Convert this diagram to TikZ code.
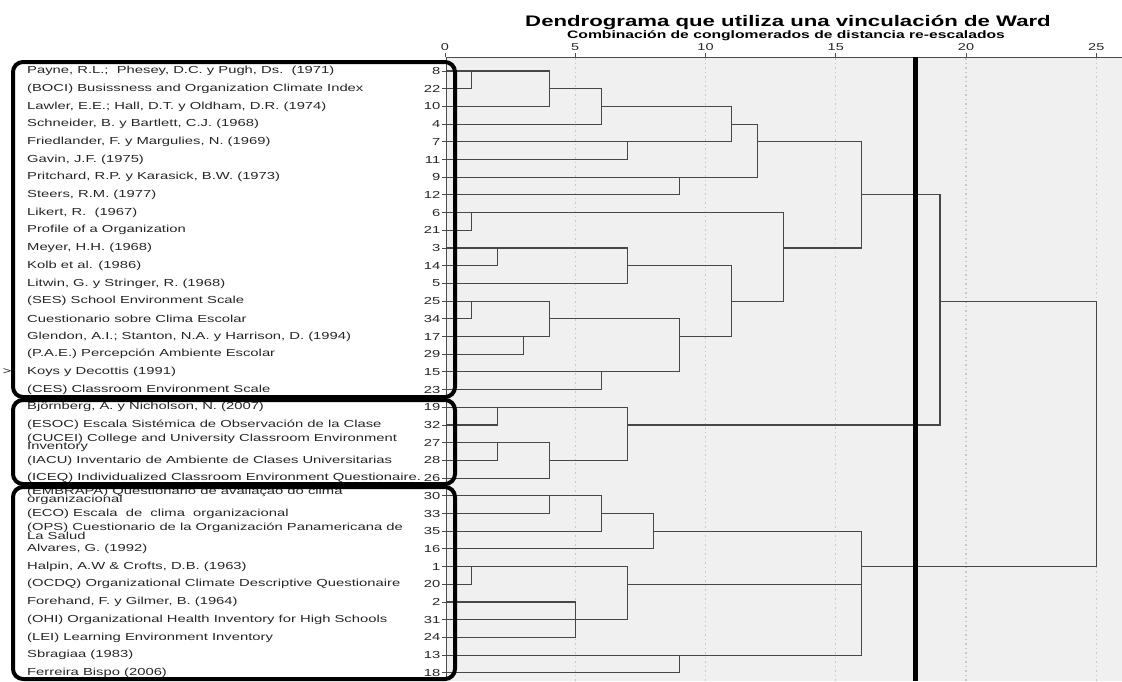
\documentclass[tikz,border=0pt]{standalone}
\usepackage{fontspec}
\setmainfont{Liberation Sans}[FakeStretch=1.45]
\tikzset{
  etiqueta/.style={anchor=west, inner sep=0pt, align=left, text=black!85, font=\fontsize{10.2}{12}\selectfont},
  numero/.style={anchor=east, inner sep=0pt, text=black!85, font=\fontsize{10.2}{12}\selectfont},
  escala/.style={inner sep=0pt, text=black!85, font=\fontsize{10}{12}\selectfont},
  titulo/.style={inner sep=0pt, font=\bfseries\fontsize{15.3}{18}\selectfont},
  subtitulo/.style={inner sep=0pt, font=\bfseries\fontsize{10.8}{13}\selectfont},
  rama/.style={draw=black!72, line width=1.1pt},
  eje/.style={draw=black!70, line width=0.9pt},
  rejilla/.style={draw=black!22, line width=1.2pt, dash pattern=on 1.5pt off 3pt},
  corte/.style={draw=black, line width=5pt},
  grupo/.style={draw=black, line width=4pt, rounded corners=10pt}
}
\begin{document}
\begin{tikzpicture}[x=1pt,y=-1pt]
  \useasboundingbox (0,0) rectangle (1122,681);
  \fill[black!6] (446,57) rectangle (1122,681);
  % titles and scale
  \node[titulo] (titulo) at (788,22.5) {Dendrograma que utiliza una vinculación de Ward};
  \node[subtitulo] (subtitulo) at (786,35.5) {Combinación de conglomerados de distancia re-escalados};
  \foreach \k in {0,5,...,25} {
    \node[escala] (e\k) at ({445+26.05*\k},47.5) {\k};
    \draw[eje] ({445+26.05*\k},53) -- ({445+26.05*\k},57);
  }
  \foreach \k in {5,10,...,25}
    \draw[rejilla] ({445+26.05*\k},58) -- ({445+26.05*\k},681);
  \draw[eje] (446,57) -- (1122,57);
  \draw[eje] (446,57) -- (446,681);

  % cases
  \begin{scope}[yshift=-53.3pt, y=-17.7pt]
    \node[etiqueta] (t8) at (27,1) {Payne, R.L.;\ \ Phesey, D.C. y Pugh, Ds.\ \ (1971)};
    \node[etiqueta] (t22) at (27,2) {(BOCI) Busissness and Organization Climate Index};
    \node[etiqueta] (t10) at (27,3) {Lawler, E.E.; Hall, D.T. y Oldham, D.R. (1974)};
    \node[etiqueta] (t4) at (27,4) {Schneider, B. y Bartlett, C.J. (1968)};
    \node[etiqueta] (t7) at (27,5) {Friedlander, F. y Margulies, N. (1969)};
    \node[etiqueta] (t11) at (27,6) {Gavin, J.F. (1975)};
    \node[etiqueta] (t9) at (27,7) {Pritchard, R.P. y Karasick, B.W. (1973)};
    \node[etiqueta] (t12) at (27,8) {Steers, R.M. (1977)};
    \node[etiqueta] (t6) at (27,9) {Likert, R.\ \ (1967)};
    \node[etiqueta] (t21) at (27,10) {Profile of a Organization};
    \node[etiqueta] (t3) at (27,11) {Meyer, H.H. (1968)};
    \node[etiqueta] (t14) at (27,12) {Kolb et al. (1986)};
    \node[etiqueta] (t5) at (27,13) {Litwin, G. y Stringer, R. (1968)};
    \node[etiqueta] (t25) at (27,14) {(SES) School Environment Scale};
    \node[etiqueta] (t34) at (27,15) {Cuestionario sobre Clima Escolar};
    \node[etiqueta] (t17) at (27,16) {Glendon, A.I.; Stanton, N.A. y Harrison, D. (1994)};
    \node[etiqueta] (t29) at (27,17) {(P.A.E.) Percepción Ambiente Escolar};
    \node[etiqueta] (t15) at (27,18) {Koys y Decottis (1991)};
    \node[etiqueta] (t23) at (27,19) {(CES) Classroom Environment Scale};
    \node[etiqueta] (t19) at (27,20) {Björnberg, A. y Nicholson, N. (2007)};
    \node[etiqueta] (t32) at (27,21) {(ESOC) Escala Sistémica de Observación de la Clase};
    \node[etiqueta] (t27) at (27,22) {(CUCEI) College and University Classroom Environment\\[-3.6pt]Inventory};
    \node[etiqueta] (t28) at (27,23) {(IACU) Inventario de Ambiente de Clases Universitarias};
    \node[etiqueta] (t26) at (27,24) {(ICEQ) Individualized Classroom Environment Questionaire.};
    \node[etiqueta] (t30) at (27,25) {(EMBRAPA) Questionário de avaliação do clima\\[-3.6pt]organizacional};
    \node[etiqueta] (t33) at (27,26) {(ECO) Escala\ \ de\ \ clima\ \ organizacional};
    \node[etiqueta] (t35) at (27,27) {(OPS) Cuestionario de la Organización Panamericana de\\[-3.6pt]La Salud};
    \node[etiqueta] (t16) at (27,28) {Alvares, G. (1992)};
    \node[etiqueta] (t1) at (27,29) {Halpin, A.W \& Crofts, D.B. (1963)};
    \node[etiqueta] (t20) at (27,30) {(OCDQ) Organizational Climate Descriptive Questionaire};
    \node[etiqueta] (t2) at (27,31) {Forehand, F. y Gilmer, B. (1964)};
    \node[etiqueta] (t31) at (27,32) {(OHI) Organizational Health Inventory for High Schools};
    \node[etiqueta] (t24) at (27,33) {(LEI) Learning Environment Inventory};
    \node[etiqueta] (t13) at (27,34) {Sbragiaa (1983)};
    \node[etiqueta] (t18) at (27,35) {Ferreira Bispo (2006)};
    \node[escala] (marca) at (7,18) {>};
    \foreach \id [count=\r] in {8,22,10,4,7,11,9,12,6,21,3,14,5,25,34,17,29,15,23,19,32,27,28,26,30,33,35,16,1,20,2,31,24,13,18} {
      \node[numero] (n\id) at (440.5,\r) {\id};
      \draw[eje] (441.5,\r) -- (446,\r);
    }
  \end{scope}

  % tree
  \begin{scope}[xshift=445pt, yshift=-53.3pt, x=26.05pt, y=-17.7pt]
    \foreach \id [count=\r] in {8,22,10,4,7,11,9,12,6,21,3,14,5,25,34,17,29,15,23,19,32,27,28,26,30,33,35,16,1,20,2,31,24,13,18}
      \coordinate (c\id) at (0.05,\r);
    \coordinate (p1) at (1,1);
    \coordinate (p2) at (4,2);
    \coordinate (p3) at (6,3);
    \coordinate (p4) at (7,5);
    \coordinate (p5) at (11,4);
    \coordinate (p6) at (9,7);
    \coordinate (p7) at (12,5);
    \coordinate (p8) at (1,9);
    \coordinate (p9) at (2,11);
    \coordinate (p10) at (7,12);
    \coordinate (p11) at (1,14);
    \coordinate (p12) at (3,16);
    \coordinate (p13) at (4,15);
    \coordinate (p14) at (6,18);
    \coordinate (p15) at (9,16);
    \coordinate (p16) at (11,14);
    \coordinate (p17) at (13,11);
    \coordinate (p18) at (16,8);
    \coordinate (p19) at (2,20);
    \coordinate (p20) at (2,22);
    \coordinate (p21) at (4,23);
    \coordinate (p22) at (7,21);
    \coordinate (p23) at (19,14);
    \coordinate (p24) at (4,25);
    \coordinate (p25) at (6,26);
    \coordinate (p26) at (8,27);
    \coordinate (p27) at (1,29);
    \coordinate (p28) at (5,32);
    \coordinate (p29) at (7,30);
    \coordinate (p30) at (9,34);
    \coordinate (p31) at (16,29);
    \coordinate (p32) at (25,14);
    \draw[rama] (c8) -| (p1) |- (c22);
    \draw[rama] (p1) -| (p2) |- (c10);
    \draw[rama] (p2) -| (p3) |- (c4);
    \draw[rama] (c7) -| (p4) |- (c11);
    \draw[rama] (p3) -| (p5) |- (p4);
    \draw[rama] (c9) -| (p6) |- (c12);
    \draw[rama] (p5) -| (p7) |- (p6);
    \draw[rama] (c6) -| (p8) |- (c21);
    \draw[rama] (c3) -| (p9) |- (c14);
    \draw[rama] (p9) -| (p10) |- (c5);
    \draw[rama] (c25) -| (p11) |- (c34);
    \draw[rama] (c17) -| (p12) |- (c29);
    \draw[rama] (p11) -| (p13) |- (p12);
    \draw[rama] (c15) -| (p14) |- (c23);
    \draw[rama] (p13) -| (p15) |- (p14);
    \draw[rama] (p10) -| (p16) |- (p15);
    \draw[rama] (p8) -| (p17) |- (p16);
    \draw[rama] (p7) -| (p18) |- (p17);
    \draw[rama] (c19) -| (p19) |- (c32);
    \draw[rama] (c27) -| (p20) |- (c28);
    \draw[rama] (p20) -| (p21) |- (c26);
    \draw[rama] (p19) -| (p22) |- (p21);
    \draw[rama] (p18) -| (p23) |- (p22);
    \draw[rama] (c30) -| (p24) |- (c33);
    \draw[rama] (p24) -| (p25) |- (c35);
    \draw[rama] (p25) -| (p26) |- (c16);
    \draw[rama] (c1) -| (p27) |- (c20);
    \draw[rama] (c2) -| (p28) |- (c24);
    \draw[rama] (c31) -- (p28);
    \draw[rama] (p27) -| (p29) |- (p28);
    \draw[rama] (c13) -| (p30) |- (c18);
    \draw[rama] (p26) -| (p31) |- (p30);
    \draw[rama] (p29) -- (p29 -| p31);
    \draw[rama] (p23) -| (p32) |- (p31);
  \end{scope}

  \draw[corte] (915,57) -- (915,681);
  % groups
  \draw[grupo] (13,62) rectangle (455,397);
  \draw[grupo] (13,400) rectangle (455,484);
  \draw[grupo] (13,487) rectangle (455,679);
\end{tikzpicture}
\end{document}
